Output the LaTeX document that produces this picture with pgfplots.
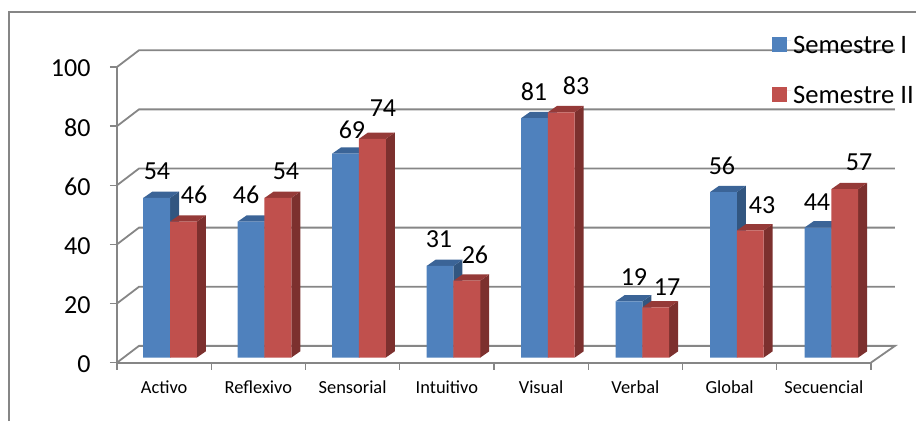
\documentclass[border=0pt]{standalone}
\usepackage{pgfplots}
\pgfplotsset{compat=1.18}
\usepackage{pgfplotstable}
\usepackage{fontspec}
\setmainfont{Carlito}

\definecolor{gridc}{HTML}{868686}
\definecolor{semI}{HTML}{4F81BD}
\definecolor{semIs}{HTML}{325680}
\definecolor{semIt}{HTML}{3B6497}
\definecolor{semII}{HTML}{C0504D}
\definecolor{semIIs}{HTML}{7C302E}
\definecolor{semIIt}{HTML}{953A38}

% bars: b = x of the line between the two bars of a group
\pgfplotstableread{
b      a  c
0.5626 54 46
1.5650 46 54
2.5674 69 74
3.5698 31 26
4.5722 81 83
5.5746 19 17
6.5770 56 43
7.5794 44 57
}\bars

% data labels, placed by hand like the original
\pgfplotstableread{
x     y    v
0.424 64.6 54
0.817 56.8 46
1.369 56.8 46
1.793 64.9 54
2.493 78.8 69
2.822 86.2 74
3.416 41.9 31
3.798 36.4 26
4.424 91.7 81
4.870 93.7 83
5.485 29.0 19
5.836 25.6 17
6.419 66.6 56
6.844 53.4 43
7.427 54.3 44
7.873 67.7 57
}\labels

% side and top face of one bar: left x, value, side colour, top colour
\newcommand\faces[4]{%
  \pgfmathsetmacro\xl{#1}%
  \pgfmathsetmacro\xr{#1+0.2843}%
  \pgfmathsetmacro\xlb{#1+0.0955}%
  \pgfmathsetmacro\xrb{#1+0.2843+0.0955}%
  \pgfmathsetmacro\yb{#2+2.13}%
  \addplot[forget plot,yshift=5pt,fill=#3,draw=none] coordinates {(\xr,0) (\xr,#2) (\xrb,\yb) (\xrb,2.13)} -- cycle;
  \addplot[forget plot,yshift=5pt,fill=#4,draw=none] coordinates {(\xl,#2) (\xr,#2) (\xrb,\yb) (\xlb,\yb)} -- cycle;
}

\begin{document}
\begin{tikzpicture}
\path[use as bounding box] (-117pt,-58.4pt) rectangle (799pt,362.6pt);
\draw[gridc,line width=1.3pt] (-108pt,-58.4pt) -- (-108pt,350.6pt) -- (799pt,350.6pt);
\begin{axis}[
    at={(0pt,0pt)}, anchor=origin,
    scale only axis,
    width=754pt, height=295.6pt,
    xmin=0, xmax=8, ymin=0, ymax=100,
    clip=false,
    axis x line*=bottom, axis y line*=left,
    axis line style={gridc,line width=1.8pt,-},
    tick style={gridc,line width=1.4pt},
    tick align=outside,
    major tick length=7pt,
    xtick={0,...,8},
    xticklabels={Activo,Reflexivo,Sensorial,Intuitivo,Visual,Verbal,Global,Secuencial},
    x tick label as interval,
    ytick={0,20,...,100},
    /pgf/number format/assume math mode=true,
    x tick label style={font=\fontsize{18.4}{20}\selectfont,yshift=-8pt},
    y tick label style={font=\fontsize{26}{28}\selectfont,xshift=-16pt,yshift=-1.5pt},
    legend style={at={(axis cs:6.95,111.2)},anchor=north west,draw=none,fill=none,
        inner sep=0pt,row sep=27pt,font=\fontsize{26.6}{28}\selectfont,cells={anchor=west}},
    legend image code/.code={\fill[#1] (0pt,-11.5pt) rectangle (15pt,3.5pt);\path (0pt,0pt) -- (19pt,0pt);},
]
% back wall and floor
\pgfplotsinvokeforeach{20,40,60,80,100}{
  \pgfmathsetmacro\yb{#1+5.66}
  \addplot[forget plot,gridc,line width=1.8pt] coordinates {(0,#1) (0.2334,\yb) (8.2546,\yb)};
}
\addplot[forget plot,gridc,line width=1.8pt] coordinates {(0,0) (0.2334,5.66) (8.2546,5.66) (8,0)};

% side and top faces
\pgfplotsinvokeforeach{0,...,7}{
  \pgfplotstablegetelem{#1}{b}\of\bars \let\bb\pgfplotsretval
  \pgfplotstablegetelem{#1}{a}\of\bars \let\va\pgfplotsretval
  \pgfplotstablegetelem{#1}{c}\of\bars \let\vc\pgfplotsretval
  \pgfmathsetmacro\lft{\bb-0.2843}
  \faces{\lft}{\va}{semIs}{semIt}
  \faces{\bb}{\vc}{semIIs}{semIIt}
}

% front faces
\addplot[ybar,bar width=26.8pt,bar shift=-13.4pt,yshift=5pt,fill=semI,draw=none] table[x=b,y=a] {\bars};
\addlegendentry{Semestre I}
\addplot[ybar,bar width=26.8pt,bar shift=13.4pt,yshift=5pt,fill=semII,draw=none] table[x=b,y=c] {\bars};
\addlegendentry{Semestre II}

% data labels
\addplot[forget plot,draw=none,mark=none,point meta=explicit symbolic,
    nodes near coords,
    every node near coord/.append style={anchor=center,inner sep=0pt,text=black,font=\fontsize{26}{28}\selectfont}]
    table[x=x,y=y,meta=v] {\labels};
\end{axis}
\end{tikzpicture}
\end{document}
